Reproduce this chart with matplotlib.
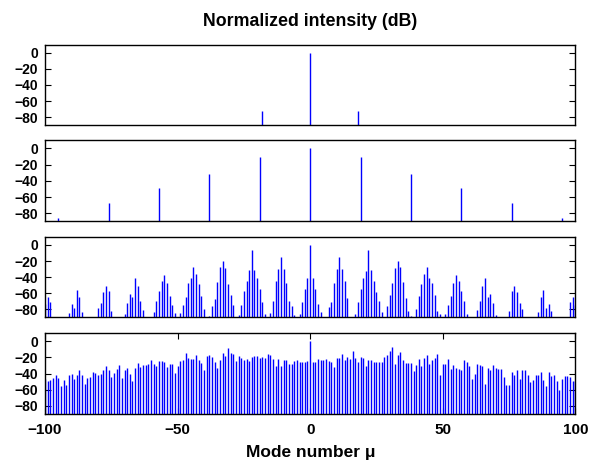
import numpy as np
import matplotlib
matplotlib.use('Agg')
import matplotlib.pyplot as plt

plt.rcParams['font.family'] = ['Liberation Sans', 'DejaVu Sans']
plt.rcParams['font.weight'] = 'bold'

nan = np.nan
modes = np.arange(-100, 101)

# panel 1: single pump with first sidebands
p1_modes = [-18, 0, 18]
p1_vals = [-72.0, 0.0, -72.0]

# panel 2: primary comb lines
p2_modes = [-95, -76, -57, -38, -19, 0, 19, 38, 57, 76, 95]
p2_vals = [-85.8, -67.6, -49.0, -31.0, -11.1, 0.0, -11.1, -31.0, -49.0, -67.6, -85.8]

# panel 3: sub-combs, one value per mode from -100 to 100 (nan = below range)
p3_vals = [
    -74.0, -65.1, -70.9, nan, nan, nan, nan, nan, nan, -84.6,
    -73.4, -78.3, -56.4, -64.7, -83.3, nan, nan, nan, nan, nan,
    -78.3, -71.7, -58.4, -50.6, -57.6, -82.5, nan, nan, nan, nan,
    -85.4, -72.5, -60.5, -64.2, -41.0, -51.4, -69.6, -81.2, nan, nan,
    nan, -83.7, -69.6, -57.2, -44.4, -37.3, -47.3, -63.4, -74.2, -84.1,
    nan, -84.6, -74.6, -65.1, -47.3, -41.0, -27.4, -36.1, -48.5, -63.8,
    -79.6, nan, -87.9, -75.9, -67.6, -46.0, -27.4, -19.5, -28.6, -48.1,
    -62.2, -75.0, nan, -87.5, -75.0, -57.2, -44.4, -30.7, -6.2, -31.5,
    -41.0, -54.3, -70.5, -85.8, nan, -84.6, -69.6, -44.4, -29.8, -14.9,
    -29.8, -47.7, -69.6, -76.3, -87.5, nan, -85.8, -70.5, -54.3, -41.0,
    0.0,
    -41.4, -54.3, -73.4, -83.3, nan, nan, -77.1, -70.9, -47.7, -29.8,
    -14.9, -29.8, -44.4, -66.3, nan, nan, -86.2, -70.5, -54.3, -41.0,
    -31.9, -6.2, -30.7, -44.4, -58.4, -70.1, -83.7, nan, -75.9, -62.2,
    -47.7, -28.6, -19.5, -27.4, -46.0, -65.5, -82.5, -87.9, nan, -79.6,
    -63.8, -48.5, -36.1, -27.4, -41.0, -47.3, -62.6, -81.7, -85.8, nan,
    -85.8, -74.6, -63.4, -47.3, -37.3, -44.4, -57.2, -69.6, -85.8, nan,
    nan, nan, -81.2, -69.6, -51.4, -41.0, -64.2, -60.5, -72.5, -87.5,
    nan, nan, nan, nan, -82.5, -57.6, -50.6, -58.4, -71.7, -79.2,
    nan, nan, nan, nan, nan, -83.3, -64.7, -56.4, -78.3, -73.4,
    -82.5, nan, nan, nan, nan, nan, nan, -70.9, -65.1, -74.2,
]

# panel 4: broad comb
p4_vals = [
    -47.0, -49.6, -47.6, -46.0, -42.3, -45.1, -55.8, -48.4, -54.6, -41.4,
    -40.6, -46.4, -41.4, -35.3, -41.4, -52.9, -45.5, -43.9, -37.7, -39.4,
    -41.4, -40.6, -35.3, -31.2, -36.1, -43.9, -39.4, -34.1, -29.5, -45.1,
    -36.1, -32.8, -40.2, -49.2, -33.2, -27.1, -32.4, -30.0, -29.1, -28.7,
    -23.0, -27.9, -30.4, -24.6, -25.0, -26.3, -31.6, -27.9, -28.7, -39.4,
    -31.2, -24.2, -23.4, -14.8, -21.3, -21.7, -21.7, -16.8, -23.4, -26.7,
    -35.7, -18.1, -17.6, -18.9, -26.3, -33.6, -23.0, -14.4, -18.5, -8.2,
    -14.4, -15.6, -24.2, -18.1, -20.5, -23.0, -21.7, -24.2, -19.7, -18.5,
    -18.5, -21.3, -18.9, -20.5, -16.0, -16.8, -22.2, -30.4, -22.2, -30.8,
    -23.0, -23.0, -28.7, -28.7, -25.0, -22.6, -25.4, -25.8, -25.8, -24.2,
    0.0,
    -25.4, -26.3, -22.2, -23.0, -23.8, -21.7, -25.0, -25.8, -32.0, -20.5,
    -20.1, -15.6, -23.8, -19.7, -22.2, -12.3, -20.1, -25.8, -18.9, -20.1,
    -31.2, -23.4, -23.4, -26.3, -26.3, -25.4, -25.8, -18.9, -16.4, -11.5,
    -6.6, -27.9, -16.4, -13.1, -23.0, -27.5, -26.7, -26.7, -37.3, -30.0,
    -21.7, -30.8, -20.9, -17.6, -27.9, -23.8, -20.1, -15.6, -41.4, -27.9,
    -27.9, -21.7, -34.1, -29.1, -33.6, -34.9, -35.3, -23.4, -25.8, -31.2,
    -46.4, -40.2, -28.3, -29.1, -30.8, -52.5, -32.8, -35.7, -30.0, -33.2,
    -34.1, -34.1, -44.7, -53.7, -53.7, -37.7, -42.3, -36.1, -46.4, -36.1,
    -35.3, -41.4, -50.9, -47.6, -41.4, -42.3, -37.7, -48.4, -55.0, -38.6,
    -43.1, -41.4, -49.2, -61.1, -47.2, -43.5, -43.5, -43.9, -49.6, -48.8,
]

yticks = [0, -20, -40, -60, -80]
xticks = [-100, -50, 0, 50, 100]
ybot = -90

fig = plt.figure(figsize=(5.89, 4.67), dpi=100)
boxes = [
    [0.0764, 0.7317, 0.9003, 0.1726],
    [0.0764, 0.5261, 0.9003, 0.1734],
    [0.0764, 0.3206, 0.9003, 0.1720],
    [0.0764, 0.1141, 0.9003, 0.1722],
]
series = [
    (np.array(p1_modes), np.array(p1_vals)),
    (np.array(p2_modes), np.array(p2_vals)),
    (modes, np.array(p3_vals)),
    (modes, np.array(p4_vals)),
]

axes = []
for i, (box, (m, v)) in enumerate(zip(boxes, series)):
    ax = fig.add_axes(box)
    ok = ~np.isnan(v)
    ax.vlines(m[ok], ybot, v[ok], colors='#0000ff', linewidth=1.0)
    ax.set_xlim(-100, 100)
    ax.set_ylim(ybot, 10)
    ax.set_yticks(yticks)
    for s in ax.spines.values():
        s.set_linewidth(1.0)
    ax.tick_params(axis='y', direction='in', left=True, right=True,
                   length=4, width=0.8, labelsize=10, pad=5)
    if i < 3:
        ax.set_xticks([])
    else:
        ax.set_xticks(xticks)
        ax.tick_params(axis='x', direction='in', top=True, bottom=True,
                       length=4, width=0.8, labelsize=11, pad=7)
    for lab in ax.get_yticklabels() + ax.get_xticklabels():
        lab.set_fontweight('bold')
    axes.append(ax)

fig.text(0.527, 1 - 26.3 / 467, 'Normalized intensity (dB)', ha='center',
         va='baseline', fontsize=12.8, fontweight='bold')
fig.text(0.527, 1 - 456.7 / 467, 'Mode number \u03bc', ha='center',
         va='baseline', fontsize=12.5, fontweight='bold')

fig.savefig('out.png', dpi=100)
